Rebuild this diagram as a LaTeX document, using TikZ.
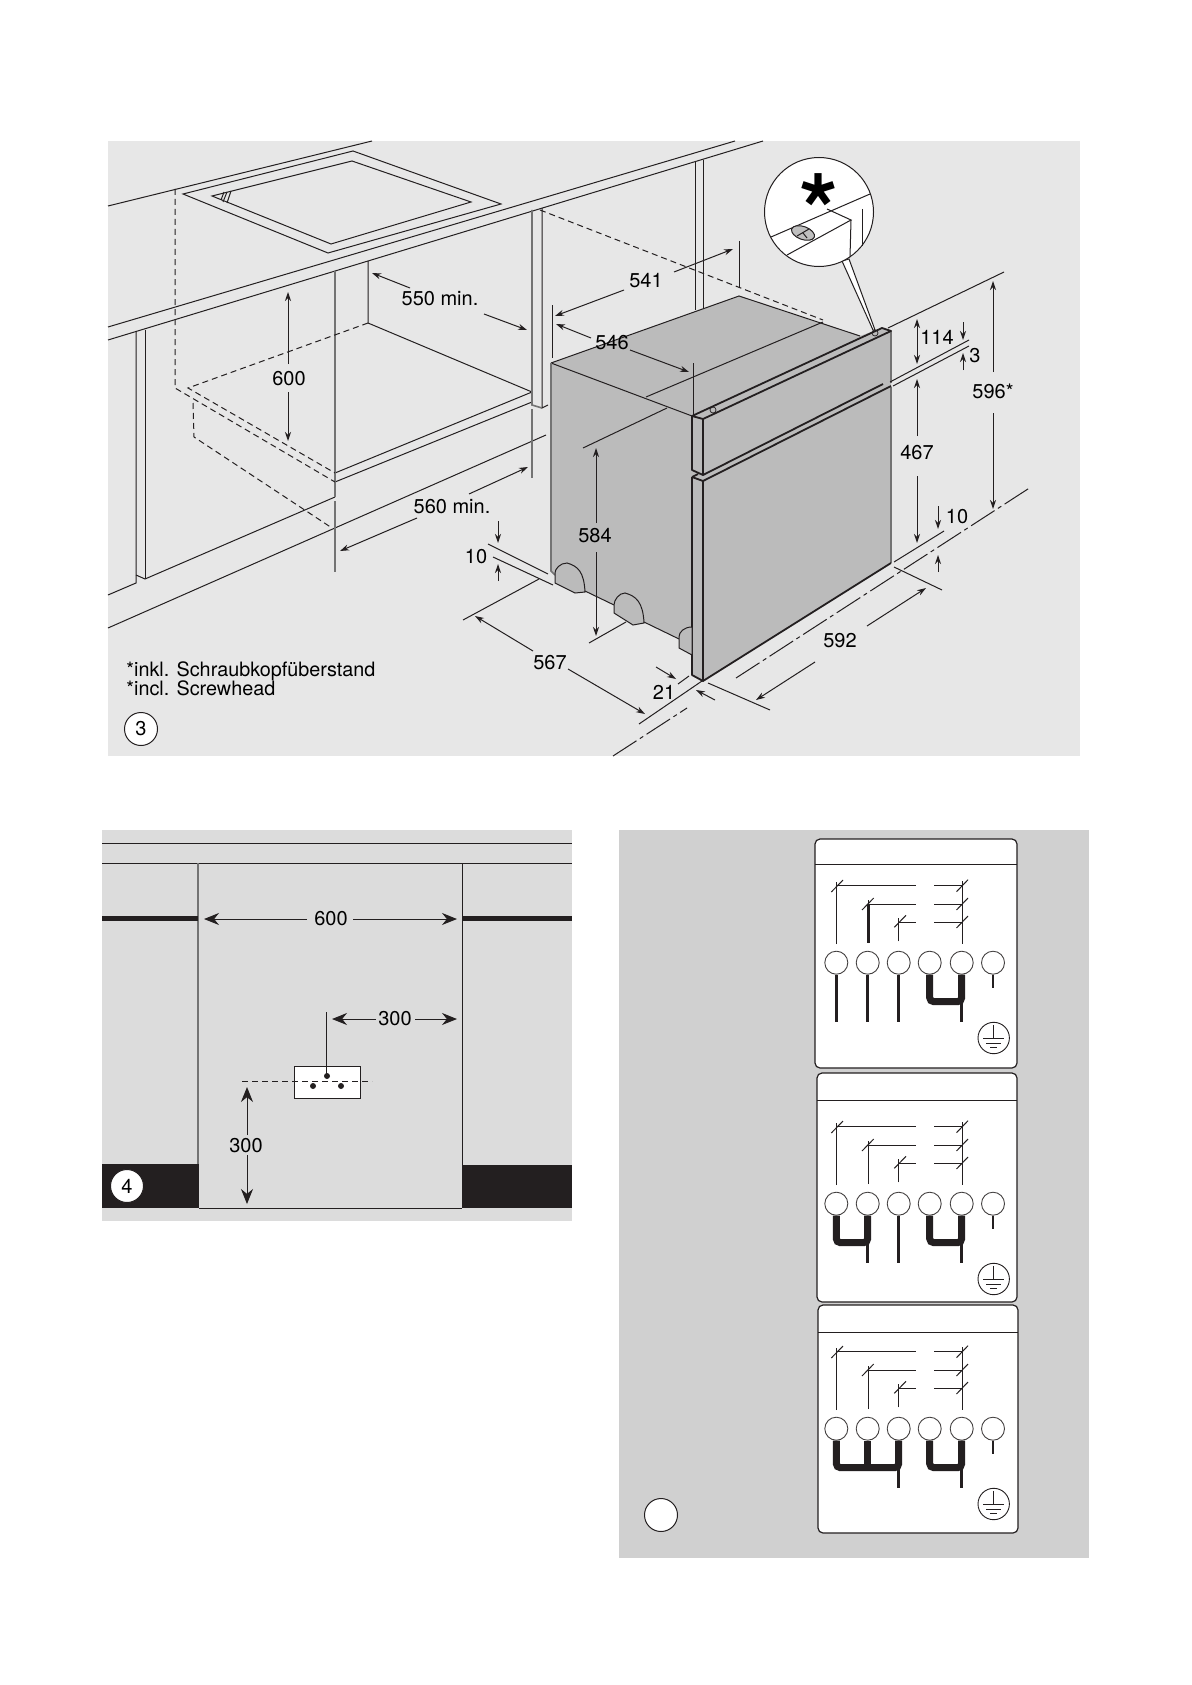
\documentclass[tikz,border=0pt]{standalone}
\usepackage{fontspec}
\setmainfont{TeX Gyre Heros}
\usepackage{tikz}
\usetikzlibrary{arrows.meta}

\definecolor{panelA}{HTML}{E7E7E7}
\definecolor{panelB}{HTML}{DCDCDC}
\definecolor{panelC}{HTML}{D0D0D0}
\definecolor{ovengray}{HTML}{BBBBBB}
\definecolor{inkblack}{HTML}{231F20}

\tikzset{
  thinline/.style={draw=inkblack,line width=0.5pt},
  postline/.style={draw=black!55,line width=0.8pt},
  dashline/.style={draw=inkblack,line width=0.5pt,dash pattern=on 3pt off 2pt},
  axisline/.style={draw=inkblack,line width=0.5pt,dash pattern=on 14pt off 2pt on 2pt off 2pt},
  frontline/.style={draw=inkblack,line width=0.9pt,line join=round},
  foot/.style={draw=inkblack,line width=0.5pt,fill=ovengray},
  numcircle/.style={circle,draw=inkblack,fill=white,line width=0.5pt,inner sep=0pt,minimum size=16.5pt},
  termframe/.style={draw=inkblack,fill=white,line width=0.6pt,rounded corners=2.5pt},
  termcirc/.style={circle,draw=inkblack!85,fill=white,line width=0.45pt,inner sep=0pt,minimum size=11.5pt},
  termline/.style={draw=inkblack,line width=0.5pt},
  lead/.style={draw=inkblack,line width=1.3pt},
  bridge/.style={draw=inkblack,line width=3.5pt,rounded corners=2pt},
}

\newcommand{\wiring}[1]{
  \foreach \cy/\cx/\tx/\ty/\endy in {45.7/21.7/16.3/52/104, 64/53.3/47/70/103, 82/83.7/79.3/87.3/101.3}{
    \draw [termline] (\cx,\endy) -- (\cx,\cy-4) (\cx,\cy) -- (101.3,\cy);
    \draw [termline] (\tx,\ty) -- (\tx+11.7,\ty-12);
    \draw [termline] (119.3,\cy) -- (147,\cy);
    \draw [termline] (141.5,\cy+6) -- (153,\cy-6);
  }
  \draw [termline] (147,41) -- (147,104);
  \foreach \n/\cx in {a/21.3,b/52.7,c/83.7,d/114.7,e/146.7,f/178}{
    \node [termcirc] (#1\n) at (\cx,122.7) {};
  }
  \draw [lead,line width=1pt] (#1f.south) -- ++(0,13);
  \node [circle,draw=inkblack,line width=0.45pt,inner sep=0pt,minimum size=15.7pt] (#1gnd) at (178.7,198) {};
  \draw [termline] (#1gnd.north) ++(0,3) -- (#1gnd.center) (168,198) -- (189.4,198);
  \draw [termline] (171.2,203) -- (186.2,203);
  \draw [termline] (175,207.5) -- (182.4,207.5);
}

\begin{document}
\begin{tikzpicture}[x=0.5pt,y=-0.5pt,font=\fontsize{10}{10}\selectfont,>={Stealth[inkblack,length=4.5pt,width=3pt]}]
\useasboundingbox (0,0) rectangle (1191,1685);

\fill [panelA] (108,141) rectangle (1080,756);
\fill [panelB] (102,830) rectangle (572,1221);
\fill [panelC] (619,830) rectangle (1089,1558);

% worktop and hob
\begin{scope}[every path/.style={thinline}]
    \draw (108,206) -- (372,141);
    \draw (183,194) -- (353,151) -- (501,204) -- (328,253) -- cycle;
    \draw (212,196) -- (352,161) -- (471,202) -- (331,244) -- cycle;
    \draw (221,200) -- (224,192) (223,202) -- (227,192) (227,203) -- (231,191);
    \draw (108,327) -- (735,141);
    \draw (108,340) -- (763,141);
    \draw (136,331) -- (136,583) -- (108,595);
    \draw (136,575) -- (145,579) -- (335,497);
    \draw (145,330) -- (145,579);
    \draw (108,628) -- (546,435);
    \draw (368,261) -- (368,323) -- (532,392);
    \draw (335,473) -- (532,392);
    \draw (335,482) -- (532,402);
    \draw (335,473) -- (335,482);
    \draw (542,208) -- (542,408) -- (548,405);
    \draw (695,162) -- (695,310);
    \draw (703,160) -- (703,310);
\end{scope}

\begin{scope}[every path/.style={postline}]
    \draw (335,271) -- (335,497);
    \draw (335,501) -- (335,572);
    \draw (532,210) -- (532,405) -- (542,408);
    \draw (532,409) -- (532,478);
\end{scope}

\begin{scope}[every path/.style={dashline}]
    \draw (175,189) -- (175,388) -- (335,482);
    \draw (368,323) -- (188,388) -- (335,473);
    \draw (193,403) -- (194,437) -- (332,528);
\end{scope}

% oven
\fill [ovengray] (551,363) -- (739,296) -- (860,336) -- (882,328) -- (891,331) -- (891,563)
    -- (703,681) -- (692,675) -- (692,645) -- (679,639) -- (644,622) -- (614,605) -- (585,591) -- (555,575) -- (551,571) -- cycle;
\begin{scope}[every path/.style={thinline}]
    \draw (551,363) -- (739,296) -- (860,336);
    \draw (551,363) -- (692,416);
    \draw (585,591) -- (614,605) (644,622) -- (679,639);
    \draw [postline] (551,363) -- (551,571) -- (555,575);
    \draw [postline,line width=0.6pt] (891,331) -- (891,383) (891,387) -- (891,563);
\end{scope}
\begin{scope}[every path/.style={frontline}]
    \draw (692,416) -- (882,328) -- (891,331) -- (703,419) -- cycle;
    \draw (692,416) -- (692,470) -- (703,475) -- (883,384);
    \draw (703,419) -- (703,475);
    \draw (692,477) -- (692,675) -- (703,681) -- (891,563);
    \draw (692,477) -- (703,481) -- (891,386);
    \draw (703,481) -- (703,681);
    \draw (692,477) -- (698,474);
\end{scope}
\draw [foot] (555,583) -- (555,573) .. controls (555,569) and (560,563) .. (567,563) .. controls (578,566) and (584,572) .. (585,592) -- (575,593) -- cycle;
\draw [foot] (614,613) -- (614,605) .. controls (614,600) and (619,593) .. (625,593) .. controls (636,596) and (643,602) .. (644,623) -- (633,625) -- cycle;
\draw [foot] (679,648) -- (679,637) .. controls (679,632) and (684,627) .. (692,627) -- (692,655) -- cycle;
\draw [dashline] (540,210) -- (823,320);
\draw [thinline] (646,397) -- (823,322);
\draw [thinline] (583,448) -- (667,408);
\draw [thinline,line width=0.35pt] (713,410) circle (3);
\draw [thinline,line width=0.35pt] (875,333) circle (3);

% detail circle
\draw [thinline,fill=white] (842,261) -- (873,330) -- (875,330) -- (849,259) -- cycle;
\node [circle,draw=inkblack,fill=white,line width=0.5pt,inner sep=0pt,minimum size=54.5pt] (detail) at (819,212) {};
\begin{scope}[every path/.style={thinline}]
    \draw (771,237) -- (870,194);
    \draw (787,255) -- (851,220) -- (827,209);
    \draw (851,220) -- (850,257);
    \draw (862,209) -- (862,246);
    \draw [fill=black!25,rotate around={-20:(803,233)}] (803,233) ellipse [x radius=12,y radius=6.5];
    \draw (797,236) -- (809,229) (803,233) -- (807,238);
\end{scope}
\node [anchor=base,inner sep=0pt,font=\fontsize{50}{50}\selectfont\bfseries] (star) at (819,247) {*};

% extension lines
\begin{scope}[every path/.style={thinline}]
    \draw (693,363) -- (693,416);
    \draw (552,305) -- (552,358);
    \draw (739,241) -- (739,287);
    \draw (488,544) -- (548,574);
    \draw (493,557) -- (553,585);
    \draw (463,620) -- (539,579);
    \draw (589,643) -- (626,622);
    \draw (678,684) -- (689,676);
    \draw (639,724) -- (702,681);
    \draw (708,683) -- (770,710);
    \draw (894,567) -- (942,590);
    \draw (894,562) -- (944,531);
    \draw (890,382) -- (969,340);
    \draw (893,386) -- (969,346);
    \draw (888,328) -- (1004,272);
\end{scope}
\draw [axisline] (613,756) -- (687,708);
\draw [axisline] (736,678) -- (1031,487);

\begin{scope}[every edge/.style={draw=inkblack,line width=0.5pt}]
    \path [->] (674,272) edge (733,249);
    \path [->] (624,290) edge (555,316);
    \path [->] (591,338) edge (556,324);
    \path [->] (630,350) edge (689,372);
    \path [->] (410,288) edge (372,273);
    \path [->] (484,314) edge (527,330);
    \path [->] (288,364) edge (288,292);
    \path [->] (288,392) edge (288,441);
    \path [->] (469,494) edge (528,467);
    \path [->] (417,518) edge (340,551);
    \path [->] (498,521) edge (498,543);
    \path [->] (498,581) edge (498,564);
    \path [->] (533,651) edge (475,616);
    \path [->] (568,669) edge (645,714);
    \path [->] (596,523) edge (596,448);
    \path [->] (596,552) edge (596,636);
    \path [->] (656,667) edge (676,679);
    \path [->] (715,700) edge (696,690);
    \path [->] (815,662) edge (756,700);
    \path [->] (867,626) edge (926,588);
    \path [->] (917,436) edge (917,379);
    \path [->] (917,476) edge (917,543);
    \path [->] (938,506) edge (938,529);
    \path [->] (938,572) edge (938,555);
    \path [<->] (917,319) edge (917,364);
    \path [->] (963,322) edge (963,340);
    \path [->] (963,370) edge (963,353);
    \path [->] (993,372) edge (993,281);
    \path [->] (993,413) edge (993,509);
\end{scope}

\begin{scope}[every node/.style={inner sep=0pt}]
    \node (l541) at (646,281) {541};
    \node (l546) at (612,343) {546};
    \node (l550) at (440,299) {550 min.};
    \node (l600a) at (289,379) {600};
    \node (l560) at (452,507) {560 min.};
    \node (l10a) at (476,557) {10};
    \node (l567) at (550,663) {567};
    \node (l584) at (595,536) {584};
    \node (l21) at (664,692) {21};
    \node (l592) at (840,641) {592};
    \node (l467) at (917,453) {467};
    \node (l10b) at (957,517) {10};
    \node (l114) at (937,337) {114};
    \node (l3) at (975,356) {3};
    \node (l596) at (993,391) {596*};
    \node [anchor=base west,font=\fontsize{9.9}{10}\selectfont] (note1) at (126,676) {*inkl. Schraubkopfüberstand};
    \node [anchor=base west,font=\fontsize{9.9}{10}\selectfont] (note2) at (126,695) {*incl. Screwhead};
\end{scope}
\node [numcircle] (fig3) at (141,729) {3};

% socket panel
\begin{scope}[every path/.style={thinline}]
    \draw (102,843) -- (572,843);
    \draw (102,863) -- (572,863);
    \draw [postline] (198,863) -- (198,1164);
    \draw (462,863) -- (462,1208);
    \draw [fill=white] (294,1066) rectangle (360,1098);
    \draw (326,1012) -- (326,1077);
\end{scope}
\fill [inkblack] (102,915.5) rectangle (198,920.5);
\fill [inkblack] (463,915.5) rectangle (572,920.5);
\fill [inkblack] (102,1164) rectangle (199,1208);
\fill [inkblack] (462,1165) rectangle (572,1208);
\draw [thinline] (199,1208) -- (462,1208);
\draw [dashline] (242,1081) -- (372,1081);
\fill [inkblack] (327,1076) circle (3);
\fill [inkblack] (313,1086) circle (3);
\fill [inkblack] (341,1086) circle (3);

\begin{scope}[>={Stealth[inkblack,length=7.5pt,width=6pt]},
              every edge/.style={draw=inkblack,line width=0.5pt}]
    \path [->] (307,919) edge (204,919);
    \path [->] (353,919) edge (457,919);
    \path [->] (376,1019) edge (332,1019);
    \path [->] (415,1019) edge (457,1019);
    \path [->] (247,1135) edge (247,1087);
    \path [->] (247,1155) edge (247,1204);
\end{scope}
\begin{scope}[every node/.style={inner sep=0pt}]
    \node (l600b) at (331,919) {600};
    \node (l300a) at (395,1019) {300};
    \node (l300b) at (246,1146) {300};
\end{scope}
\node [numcircle] (fig4) at (127,1186) {4};

% terminal boxes
\draw [termframe] (815,839) rectangle (1017,1068);
\draw [termline] (815,864) -- (1017,864);
\draw [termframe] (817,1073) rectangle (1017,1302);
\draw [termline] (817,1100) -- (1017,1100);
\draw [termframe] (818,1305) rectangle (1018,1533);
\draw [termline] (818,1332) -- (1018,1332);
\node [numcircle] (fig5) at (661,1515) {};

\begin{scope}[shift={(815,840)}]
    \wiring{p}
    \draw [lead] (pa.south) -- ++(0,47);
    \draw [lead] (pb.south) -- ++(0,47);
    \draw [lead] (pc.south) -- ++(0,47);
    \draw [lead] (53.3,64) -- (53.3,103);
    \draw [bridge] (pd.south) -- ++(0,27) -| (pe.south);
    \draw [lead] (pe.south) -- ++(0,47);
\end{scope}

\begin{scope}[shift={(815,1081)}]
    \wiring{q}
    \draw [bridge] (qa.south) -- ++(0,27) -| (qb.south);
    \draw [lead] (qb.south) -- ++(0,47);
    \draw [lead] (qc.south) -- ++(0,47);
    \draw [bridge] (qd.south) -- ++(0,27) -| (qe.south);
    \draw [lead] (qe.south) -- ++(0,47);
\end{scope}

\begin{scope}[shift={(815,1306)}]
    \wiring{r}
    \draw [bridge] (ra.south) -- ++(0,27) -| (rc.south);
    \draw [bridge] (rb.south) -- ++(0,27);
    \draw [lead] (rc.south) -- ++(0,47);
    \draw [bridge] (rd.south) -- ++(0,27) -| (re.south);
    \draw [lead] (re.south) -- ++(0,47);
\end{scope}
\end{tikzpicture}
\end{document}
